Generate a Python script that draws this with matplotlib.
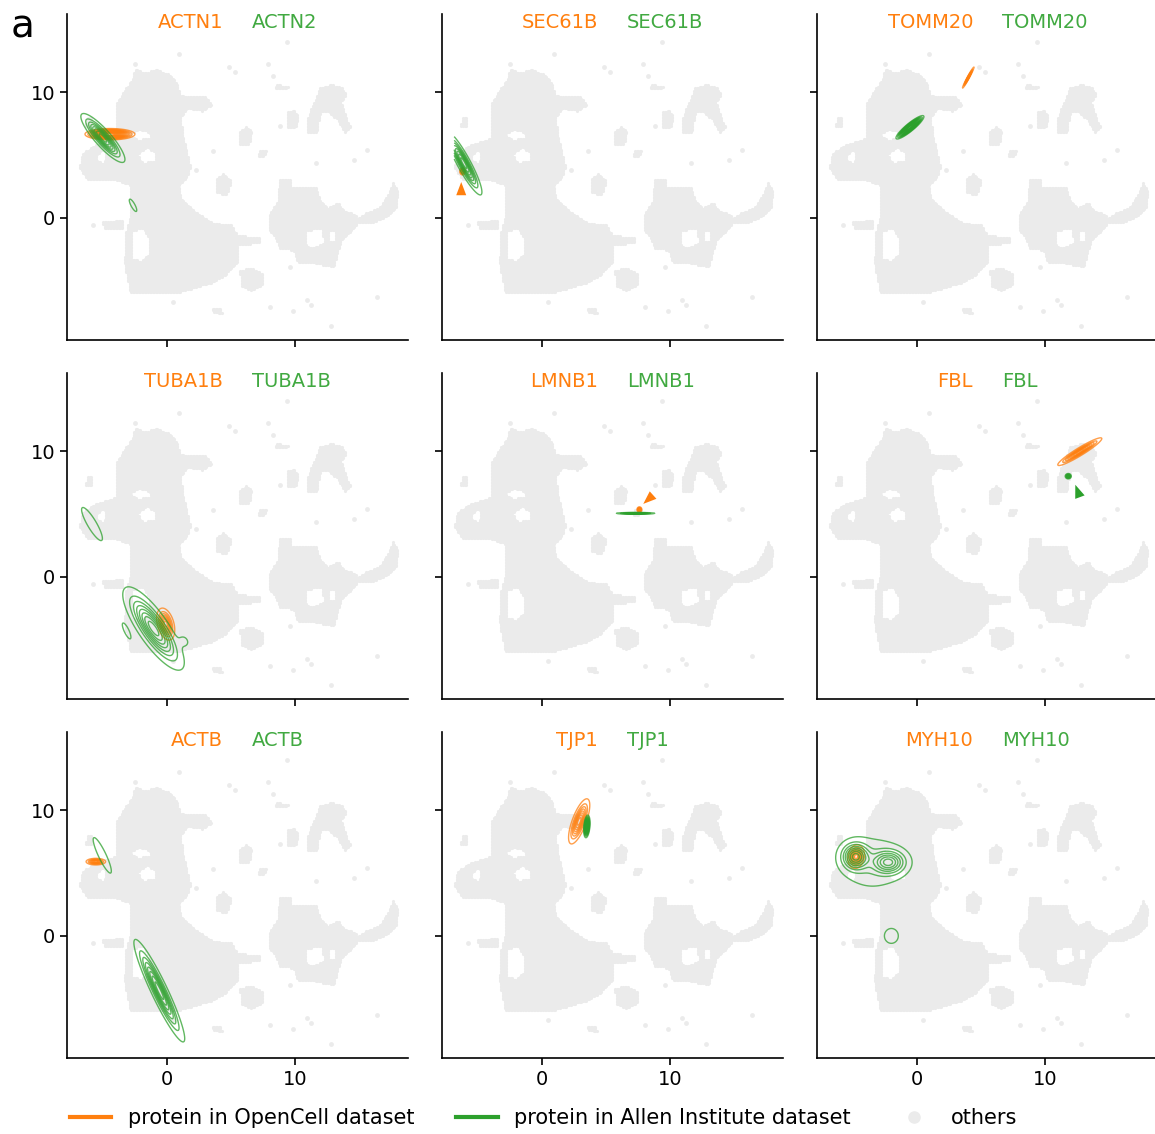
import numpy as np
import matplotlib
matplotlib.use("Agg")
import matplotlib.pyplot as plt
from matplotlib.path import Path
from matplotlib.lines import Line2D

ORANGE = "#ff7f0e"
GREEN = "#2ca02c"
GRAY = "#ebebeb"

# ---------------- titles ----------------
orange_names = ["ACTN1", "SEC61B", "TOMM20", "TUBA1B", "LMNB1", "FBL", "ACTB", "TJP1", "MYH10"]
green_names = ["ACTN2", "SEC61B", "TOMM20", "TUBA1B", "LMNB1", "FBL", "ACTB", "TJP1", "MYH10"]

xticks = [0, 10]
yticks = [0, 10]
legend_labels = ["protein in OpenCell dataset", "protein in Allen Institute dataset", "others"]

# ---------------- background embedding ("others") ----------------
bg_main = [(-2.5, 11.9), (-1.8, 11.5), (-0.8, 11.8), (0.3, 11.3), (0.8, 10.6), (1.0, 9.8),
           (1.8, 9.6), (3.0, 9.6), (3.5, 9.0), (2.8, 8.5), (1.6, 8.7), (1.1, 8.0), (1.2, 6.8),
           (1.5, 5.5), (1.8, 4.0), (1.6, 3.2), (0.9, 2.6), (1.1, 1.5), (2.0, 0.6), (3.5, -0.4),
           (5.0, -0.6), (5.5, -1.4), (7.2, -1.5), (7.2, -2.0), (5.6, -2.1), (5.5, -3.5),
           (4.5, -4.6), (3.4, -5.2), (1.0, -5.9), (-2.9, -5.9), (-3.3, -3.5), (-3.2, -1.2),
           (-2.8, 0.4), (-2.9, 2.6), (-3.9, 3.0), (-6.2, 3.1), (-6.8, 4.0), (-6.6, 5.0),
           (-5.8, 5.7), (-4.0, 6.3), (-3.9, 7.8), (-4.0, 9.0), (-3.2, 10.3), (-2.7, 11.0)]
bg_right_center = [(8.0, 0.3), (8.6, 1.2), (8.8, 3.1), (9.6, 3.0), (9.7, 2.4), (10.6, 2.5),
                   (11.6, 2.4), (11.9, 1.5), (12.5, 0.8), (13.3, 1.2), (13.8, 0.6), (14.8, 0.2),
                   (14.9, -0.4), (14.2, -1.2), (13.6, -1.8), (13.3, -2.8), (13.0, -3.9),
                   (12.5, -3.8), (11.0, -3.5), (10.2, -3.6), (9.9, -2.6), (9.3, -2.4),
                   (8.8, -2.5), (8.5, -1.6), (8.0, -1.0)]
bg_right_arm = [(14.8, -0.1), (15.6, 0.4), (16.6, 0.8), (17.2, 1.8), (17.6, 2.8), (18.0, 2.2),
                (17.9, 0.8), (17.0, 0.0), (16.0, -0.4), (14.8, -0.4)]
bg_upper_right = [(11.9, 10.3), (12.8, 10.6), (13.6, 10.4), (14.0, 9.8), (13.6, 9.2), (13.8, 8.5),
                  (14.3, 7.2), (13.9, 6.8), (13.3, 7.8), (12.6, 8.4), (12.0, 8.4), (11.8, 7.5),
                  (11.7, 6.8), (11.0, 6.8), (10.9, 7.6), (11.2, 8.6), (11.6, 9.4)]
bg_small = [
    [(5.7, 5.8), (5.7, 6.9), (6.2, 7.2), (6.6, 6.8), (6.4, 5.8)],
    [(3.9, 2.0), (3.9, 3.2), (4.4, 3.5), (5.0, 3.0), (4.7, 1.8)],
    [(5.7, -4.2), (6.5, -4.0), (7.4, -4.4), (7.5, -5.3), (6.6, -5.8), (5.8, -5.4)],
    [(8.4, 10.2), (8.5, 10.6), (9.5, 10.5), (9.4, 10.2)],
    [(9.4, 7.2), (9.4, 8.4), (9.9, 8.6), (10.3, 8.0), (10.0, 7.1)],
    [(7.1, 4.9), (7.3, 5.4), (7.8, 5.3), (7.6, 4.9)],
    [(-5.0, -0.3), (-3.4, -0.2), (-3.5, -0.9), (-4.9, -0.9)],
    [(-6.3, 7.3), (-6.2, 8.0), (-5.9, 8.0), (-5.9, 7.3)],
    [(3.5, -7.2), (4.2, -7.2), (4.3, -7.6), (3.6, -7.5)],
]
bg_holes = [
    [(-2.7, -1.0), (-1.8, -0.9), (-1.4, -1.6), (-1.4, -2.8), (-1.9, -3.4), (-2.7, -3.3)],
    [(-2.9, 6.6), (-2.2, 7.0), (-1.4, 6.8), (-1.3, 6.3), (-2.3, 6.2)],
    [(-2.3, 5.0), (-1.6, 5.6), (-0.9, 5.2), (-1.0, 4.5), (-1.9, 4.4)],
    [(-5.5, 4.9), (-5.0, 5.4), (-4.7, 5.0), (-4.9, 4.4), (-5.4, 4.5)],
    [(10.8, -1.0), (12.1, -0.9), (12.3, -2.0), (11.2, -2.4), (10.8, -2.0)],
    [(12.6, -1.0), (13.1, -1.0), (13.1, -1.9), (12.6, -1.9)],
]
bg_dots_x = [0.9, -2.5, 5.3, 7.9, 9.4, 8.3, 3.6, 2.3, 8.8, 11.6, 15.6, 16.4, 0.5, 8.0, 9.8,
             11.2, 12.8, 9.6, -5.8, 10.9, 4.8, 14.6]
bg_dots_y = [13.0, 12.2, 11.6, 12.2, 14.0, 11.3, 5.3, 3.8, 7.3, 4.4, 5.4, -6.3, -6.7, -7.1, -7.4,
             -6.9, -8.6, -3.9, -0.6, -6.5, 12.0, 4.6]

# ---------------- KDE components per protein: (cx, cy, sd_major, sd_minor, angle_deg, peak) ----------------
actn1_orange = [(-4.45, 6.65, 0.82, 0.19, 0, 1.0)]
actn2_green = [(-5.0, 6.35, 1.06, 0.27, -49, 1.0), (-2.65, 1.0, 0.61, 0.17, -62, 0.09)]
sec61b_orange = [(-6.2, 3.7, 0.12, 0.09, 90, 1.0)]
sec61b_green = [(-6.1, 4.35, 1.2, 0.22, -62, 1.0)]
tomm20_orange = [(4.0, 11.15, 0.4, 0.035, 62, 1.0)]
tomm20_green = [(-0.55, 7.2, 0.59, 0.13, 40, 1.0)]
tuba1b_orange = [(-0.1, -3.75, 0.55, 0.27, -75, 1.0)]
tuba1b_green = [(-1.05, -4.1, 1.65, 0.5, -56, 1.0), (1.35, -5.1, 0.4, 0.3, -60, 0.08),
                (-3.15, -4.3, 0.75, 0.2, -65, 0.09), (-5.85, 4.2, 1.67, 0.39, -60, 0.09)]
lmnb1_orange = [(7.6, 5.35, 0.09, 0.08, 90, 1.0)]
lmnb1_green = [(7.3, 5.05, 0.63, 0.03, 0, 1.0)]
fbl_orange = [(12.7, 9.95, 0.85, 0.13, 32, 1.0)]
fbl_green = [(11.8, 8.0, 0.1, 0.09, 0, 1.0)]
actb_orange = [(-5.55, 5.9, 0.32, 0.11, 0, 1.0)]
actb_green = [(-0.6, -4.35, 1.89, 0.27, -65, 1.0), (-5.05, 6.4, 1.72, 0.33, -65, 0.09)]
tjp1_orange = [(2.9, 9.1, 0.8, 0.23, 70, 1.0)]
tjp1_green = [(3.5, 8.7, 0.38, 0.1, 85, 1.0)]
myh10_orange = [(-4.75, 6.3, 0.4, 0.27, 80, 1.0)]
myh10_green = [(-4.8, 6.3, 0.6, 0.6, 0, 1.0), (-2.2, 5.85, 0.75, 0.55, 0, 0.85),
               (-3.5, 5.8, 1.5, 1.25, 0, 0.2), (-2.0, 0.0, 0.6, 0.55, 90, 0.11)]

orange_comps = [actn1_orange, sec61b_orange, tomm20_orange, tuba1b_orange, lmnb1_orange,
                fbl_orange, actb_orange, tjp1_orange, myh10_orange]
green_comps = [actn2_green, sec61b_green, tomm20_green, tuba1b_green, lmnb1_green,
               fbl_green, actb_green, tjp1_green, myh10_green]
orange_nlev = [18, 8, 8, 8, 8, 8, 8, 8, 8]
green_nlev = [8, 8, 18, 8, 8, 8, 8, 16, 8]

# arrowheads marking tiny contours
arrow_panel = [1, 4, 5]
arrow_tip = [(-6.3, 2.85), (7.9, 5.8), (12.35, 7.32)]
arrow_tail = [(-6.3, 1.75), (8.73, 6.56), (12.69, 6.39)]
arrow_color = [ORANGE, ORANGE, GREEN]

# ---------------- build background lattice ----------------
gx, gy = np.meshgrid(np.arange(-7.0, 18.6, 0.12), np.arange(-9.0, 14.5, 0.12))
pts = np.column_stack([gx.ravel(), gy.ravel()])
inside = np.zeros(len(pts), bool)
for poly in [bg_main, bg_right_center, bg_right_arm, bg_upper_right] + bg_small:
    inside |= Path(poly + [poly[0]], closed=True).contains_points(pts)
for poly in bg_holes:
    inside &= ~Path(poly + [poly[0]], closed=True).contains_points(pts)
bgx, bgy = pts[inside, 0], pts[inside, 1]

# ---------------- density grid ----------------
KX, KY = np.meshgrid(np.linspace(-6.85, 18.8, 900), np.linspace(-9.7, 16.2, 900))


def density(comps):
    Z = np.zeros_like(KX)
    for cx, cy, a, b, ang, pk in comps:
        t = np.radians(ang)
        dx, dy = KX - cx, KY - cy
        u = dx * np.cos(t) + dy * np.sin(t)
        v = -dx * np.sin(t) + dy * np.cos(t)
        Z += pk * np.exp(-0.5 * ((u / a) ** 2 + (v / b) ** 2))
    return Z


fig = plt.figure(figsize=(11.55, 11.34), dpi=100)
plt.rcParams["font.family"] = ["DejaVu Sans"]

col_left = [67 / 1155, 442 / 1155, 817 / 1155]
row_bottom = [1 - 340 / 1134, 1 - 699 / 1134, 1 - 1058 / 1134]
aw, ah = 341 / 1155, 326 / 1134

for k in range(9):
    r, c = divmod(k, 3)
    ax = fig.add_axes([col_left[c], row_bottom[r], aw, ah])
    ax.scatter(bgx, bgy, s=5, c=GRAY, linewidths=0, zorder=1)
    ax.scatter(bg_dots_x, bg_dots_y, s=12, c=GRAY, linewidths=0, zorder=1)
    for comps, col, nl in [(orange_comps[k], ORANGE, orange_nlev[k]),
                           (green_comps[k], GREEN, green_nlev[k])]:
        Z = density(comps)
        lv = np.linspace(0.06, 0.92, nl) * Z.max()
        ax.contour(KX, KY, Z, levels=lv, colors=col, linewidths=1.0, alpha=0.75, zorder=3)
    for p, tip, tail, colr in zip(arrow_panel, arrow_tip, arrow_tail, arrow_color):
        if p == k:
            ax.annotate("", xy=tip, xytext=tail,
                        arrowprops=dict(arrowstyle="-|>,head_length=0.95,head_width=0.36",
                                        color=colr, lw=0, shrinkA=0, shrinkB=0), zorder=4)
    ax.set_xlim(-7.8, 18.8)
    ax.set_ylim(-9.7, 16.2)
    ax.set_xticks(xticks)
    ax.set_yticks(yticks)
    ax.tick_params(labelsize=14, length=5, width=1.2)
    if c != 0:
        ax.set_yticklabels([])
    if r != 2:
        ax.set_xticklabels([])
    for s in ["top", "right"]:
        ax.spines[s].set_visible(False)
    for s in ["left", "bottom"]:
        ax.spines[s].set_linewidth(1.2)
    ax.text(0.5 - 0.0425, 0.957, orange_names[k], color=ORANGE, fontsize=14,
            ha="right", va="baseline", transform=ax.transAxes)
    ax.text(0.5 + 0.0425, 0.957, green_names[k], color=GREEN, fontsize=14,
            ha="left", va="baseline", transform=ax.transAxes, alpha=0.9)

fig.text(0.009, 1 - 37 / 1134, "a", fontsize=28, ha="left", va="baseline")

handles = [Line2D([], [], color=ORANGE, lw=3),
           Line2D([], [], color=GREEN, lw=3),
           Line2D([], [], color=GRAY, marker="o", ls="", markersize=8)]
fig.legend(handles, legend_labels, loc="center left", bbox_to_anchor=(0.044, 1 - 1118 / 1134),
           ncol=3, frameon=False, fontsize=15, handlelength=2.0, columnspacing=2.0)

fig.savefig("out.png", dpi=100)
